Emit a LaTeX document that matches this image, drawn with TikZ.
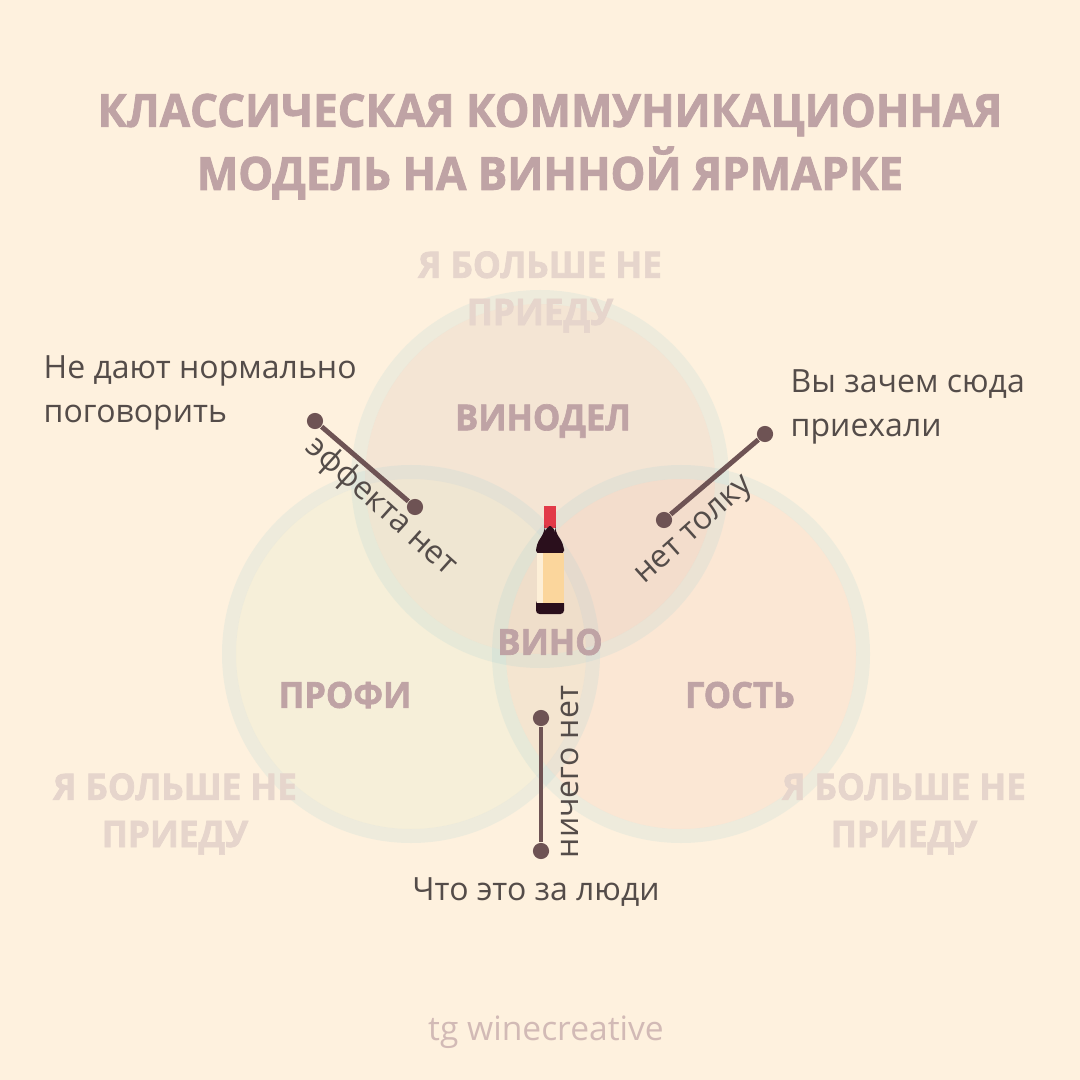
\documentclass[tikz,border=0pt]{standalone}
\usepackage{fontspec}
\setmainfont{Open Sans}
\newfontfamily\headfont[FakeBold=1.8,FakeStretch=0.96]{Open Sans Bold}
\usetikzlibrary{positioning}
\definecolor{paper}{HTML}{FEF1DE}
\definecolor{headcol}{HTML}{BFA3A5}
\definecolor{ghostcol}{HTML}{E6D5CC}
\definecolor{inkcol}{HTML}{544C49}
\definecolor{linecol}{HTML}{6E5354}
\definecolor{ringcol}{HTML}{9CCFD6}
\definecolor{wincol}{HTML}{D8C5B8}
\definecolor{procol}{HTML}{E4EACD}
\definecolor{guecol}{HTML}{EFC1AE}
\definecolor{capcol}{HTML}{E23A48}
\definecolor{glasscol}{HTML}{2A0F1C}
\definecolor{labelcol}{HTML}{FBD69C}
\tikzset{
  headtext/.style={text=headcol,font=\headfont\fontsize{13}{16}\selectfont},
  roletext/.style={text=headcol,font=\headfont\fontsize{10.2}{13}\selectfont},
  ghosttext/.style={text=ghostcol,align=center,font=\headfont\fontsize{10.4}{13.4}\selectfont},
  saytext/.style={text=inkcol,font=\fontsize{9.1}{12.6}\selectfont,align=left},
  dot/.style={circle,fill=linecol,inner sep=0pt,minimum size=4.6pt},
  link/.style={draw=linecol,line width=1.4pt}
}
\begin{document}
\begin{tikzpicture}[x=0.01cm,y=-0.01cm]
  \fill[paper] (0,0) rectangle (1080,1080);
  \useasboundingbox (0,0) rectangle (1080,1080);
  % circles
  \coordinate (win) at (540,479); \coordinate (pro) at (411,654); \coordinate (gue) at (681,654);
  \fill[wincol,opacity=.25] (win) circle (175);
  \fill[procol,opacity=.28] (pro) circle (175);
  \fill[guecol,opacity=.2] (gue) circle (175);
  \fill[ringcol,opacity=.16,even odd rule] (win) circle (189) (win) circle (175);
  \fill[ringcol,opacity=.16,even odd rule] (pro) circle (189) (pro) circle (175);
  \fill[ringcol,opacity=.16,even odd rule] (gue) circle (189) (gue) circle (175);
  % bottle
  \fill[capcol] (544,506) rectangle (556,528);
  \fill[glasscol,rounded corners=2pt] (545,526) -- (555,526) -- (555,532) -- (564,544) -- (564,556) -- (536,556) -- (536,544) -- (545,532) -- cycle;
  \fill[glasscol,rounded corners=1pt] (536,600) rectangle (564,614);
  \fill[white!60!labelcol] (537,553) rectangle (543,603);
  \fill[labelcol] (543,553) rectangle (564,603);
  % titles
  \node[headtext] (title1) at (550,115) {КЛАССИЧЕСКАЯ КОММУНИКАЦИОННАЯ};
  \node[headtext] (title2) at (550,173) {МОДЕЛЬ НА ВИННОЙ ЯРМАРКЕ};
  \node[ghosttext] (gh1) at (540,292) {Я БОЛЬШЕ НЕ\\ПРИЕДУ};
  \node[ghosttext] (gh2) at (175,814) {Я БОЛЬШЕ НЕ\\ПРИЕДУ};
  \node[ghosttext] (gh3) at (904,814) {Я БОЛЬШЕ НЕ\\ПРИЕДУ};
  \node[roletext] (winemaker) at (543,421) {ВИНОДЕЛ};
  \node[roletext] (expert) at (345,695) {ПРОФИ};
  \node[roletext] (guest) at (740,695) {ГОСТЬ};
  \node[roletext] (wine) at (550,642) {ВИНО};
  % connectors
  \node[dot] (a1) at (315,421) {}; \node[dot] (a2) at (415,507) {};
  \node[dot] (b1) at (765,434) {}; \node[dot] (b2) at (664,520) {};
  \node[dot] (c1) at (541,718) {}; \node[dot] (c2) at (541,851) {};
  \path[link] (a1) edge (a2);
  \path[link] (b1) edge (b2);
  \path[link] (c1) edge (c2);
  \node[saytext,anchor=west,inner sep=0pt] (say1) at (43,393) {Не дают нормально\\поговорить};
  \node[saytext,anchor=west,inner sep=0pt] (say2) at (790,407) {Вы зачем сюда\\приехали};
  \node[saytext] (say3) at (536,892) {Что это за люди};
  \node[saytext,rotate=-42] (lab1) at (381,507) {эффекта нет};
  \node[saytext,rotate=42] (lab2) at (696,532) {нет толку};
  \node[saytext,rotate=90] (lab3) at (570,772) {ничего нет};
  \node[text=headcol!70!paper,font=\fontsize{9.55}{11}\selectfont] (tag) at (546,1032) {tg winecreative};
\end{tikzpicture}
\end{document}
